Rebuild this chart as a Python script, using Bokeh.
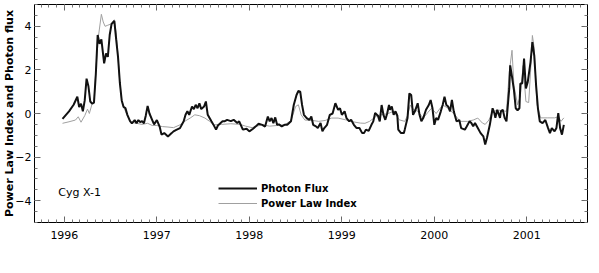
from bokeh.plotting import figure
from bokeh.models import (Range1d, LinearAxis, SingleIntervalTicker, Legend, LegendItem,
                          Label, ColumnDataSource, CustomLabelingPolicy)
from bokeh.embed import file_html
from bokeh.resources import INLINE

# ---- data -----------------------------------------------------------------
flux_year = [1995.98, 1996.05, 1996.10, 1996.14, 1996.16, 1996.18, 1996.20, 1996.22, 1996.24,
             1996.26, 1996.28, 1996.30, 1996.32, 1996.34, 1996.36, 1996.38, 1996.40, 1996.43,
             1996.45, 1996.47, 1996.49, 1996.51, 1996.54, 1996.56, 1996.58, 1996.60, 1996.62,
             1996.64, 1996.66, 1996.68, 1996.71, 1996.73, 1996.76, 1996.78, 1996.80, 1996.82,
             1996.84, 1996.86, 1996.88, 1996.90, 1996.92, 1996.95, 1996.97, 1997.00, 1997.03,
             1997.05, 1997.08, 1997.12, 1997.16, 1997.18, 1997.21, 1997.25, 1997.29, 1997.31,
             1997.33, 1997.35, 1997.38, 1997.40, 1997.42, 1997.44, 1997.46, 1997.48, 1997.51,
             1997.53, 1997.55, 1997.59, 1997.61, 1997.64, 1997.66, 1997.71, 1997.73, 1997.76,
             1997.80, 1997.83, 1997.87, 1997.89, 1997.93, 1997.97, 1998.00, 1998.04, 1998.07,
             1998.10, 1998.14, 1998.17, 1998.20, 1998.22, 1998.24, 1998.26, 1998.28, 1998.30,
             1998.32, 1998.35, 1998.38, 1998.41, 1998.43, 1998.45, 1998.48, 1998.51, 1998.53,
             1998.55, 1998.57, 1998.59, 1998.62, 1998.65, 1998.67, 1998.69, 1998.72, 1998.74,
             1998.77, 1998.79, 1998.81, 1998.84, 1998.87, 1998.90, 1998.93, 1998.96, 1998.98,
             1999.00, 1999.03, 1999.05, 1999.08, 1999.10, 1999.13, 1999.16, 1999.19, 1999.22,
             1999.24, 1999.26, 1999.29, 1999.32, 1999.34, 1999.36, 1999.39, 1999.41, 1999.43,
             1999.45, 1999.47, 1999.49, 1999.51, 1999.52, 1999.54, 1999.56, 1999.58, 1999.60,
             1999.61, 1999.64, 1999.67, 1999.68, 1999.71, 1999.73, 1999.75, 1999.77, 1999.79,
             1999.82, 1999.84, 1999.86, 1999.88, 1999.91, 1999.94, 1999.96, 1999.98, 2000.00,
             2000.02, 2000.04, 2000.07, 2000.09, 2000.11, 2000.13, 2000.15, 2000.17, 2000.19,
             2000.21, 2000.24, 2000.27, 2000.29, 2000.33, 2000.35, 2000.38, 2000.40, 2000.42,
             2000.44, 2000.47, 2000.50, 2000.53, 2000.55, 2000.57, 2000.60, 2000.63, 2000.65,
             2000.66, 2000.68, 2000.71, 2000.72, 2000.74, 2000.76, 2000.78, 2000.81, 2000.82,
             2000.84, 2000.86, 2000.88, 2000.90, 2000.92, 2000.93, 2000.95, 2000.96, 2000.97,
             2000.99, 2001.01, 2001.04, 2001.06, 2001.08, 2001.10, 2001.12, 2001.14, 2001.17,
             2001.20, 2001.23, 2001.25, 2001.27, 2001.30, 2001.32, 2001.34, 2001.36, 2001.38,
             2001.40]
photon_flux = [-0.25, 0.10, 0.40, 0.77, 0.30, 0.45, 0.10, 0.60, 1.60,
               1.25, 0.55, 0.45, 0.50, 1.80, 3.60, 3.20, 3.40, 2.30,
               2.75, 2.60, 3.60, 4.10, 4.25, 3.40, 2.60, 1.40, 0.60,
               0.30, 0.25, -0.05, -0.35, -0.45, -0.30, -0.45, -0.30, -0.40,
               -0.35, -0.45, -0.10, 0.35, 0.00, -0.30, -0.50, -0.30, -0.60,
               -0.97, -0.90, -1.05, -0.90, -0.82, -0.75, -0.67, -0.36, -0.06,
               0.10, -0.06, 0.32, 0.20, 0.40, 0.24, 0.47, 0.20, 0.32,
               0.55, -0.06, -0.36, -0.50, -0.74, -0.55, -0.36, -0.36, -0.29,
               -0.35, -0.29, -0.44, -0.36, -0.74, -0.70, -0.82, -0.70, -0.59,
               -0.47, -0.52, -0.60, -0.14, -0.36, -0.21, -0.44, -0.18, -0.52,
               -0.50, -0.59, -0.52, -0.52, -0.44, -0.36, 0.39, 0.85, 1.03,
               1.00, 0.39, -0.06, -0.21, -0.29, -0.14, -0.52, -0.59, -0.67,
               -0.44, -0.82, -0.67, -0.52, -0.06, 0.00, 0.47, 0.17, 0.24,
               -0.06, 0.10, -0.21, -0.36, -0.29, -0.52, -0.67, -0.67, -0.90,
               -0.90, -0.74, -0.80, -0.52, -0.36, 0.02, -0.10, -0.36, 0.39,
               -0.06, -0.29, 0.00, 0.39, 0.17, 0.32, -0.06, 0.10, -0.10,
               -0.74, -0.90, -0.90, -0.74, -0.21, 0.92, 0.85, -0.06, 0.10,
               0.47, -0.06, -0.36, -0.21, 0.17, 0.39, 0.62, 0.24, -0.52,
               -0.21, -0.29, 0.10, 0.39, 0.77, 0.39, 0.32, 0.10, 0.62,
               0.10, -0.36, -0.30, -0.67, -0.74, -0.60, -0.36, -0.44, -0.59,
               -0.44, -0.67, -0.90, -1.05, -1.42, -1.10, -0.52, 0.24, 0.00,
               -0.20, 0.17, -0.20, 0.10, 0.17, -0.20, -0.36, 1.15, 2.21,
               1.68, 1.10, 0.24, 0.15, 0.24, 1.38, 1.38, 1.90, 2.52,
               1.15, 1.45, 2.36, 3.27, 2.67, 1.30, 0.24, -0.36, -0.44,
               -0.30, -0.67, -0.90, -0.67, -0.82, -0.67, 0.02, -0.67, -0.97,
               -0.52]

index_year = [1995.98, 1996.05, 1996.12, 1996.15, 1996.18, 1996.22, 1996.25, 1996.27, 1996.30,
              1996.32, 1996.34, 1996.37, 1996.40, 1996.42, 1996.44, 1996.47, 1996.50, 1996.54,
              1996.56, 1996.58, 1996.60, 1996.62, 1996.65, 1996.68, 1996.72, 1996.78, 1996.84,
              1996.90, 1996.95, 1997.00, 1997.06, 1997.12, 1997.18, 1997.25, 1997.30, 1997.36,
              1997.41, 1997.46, 1997.52, 1997.57, 1997.62, 1997.70, 1997.80, 1997.90, 1997.96,
              1998.03, 1998.08, 1998.14, 1998.22, 1998.30, 1998.38, 1998.44, 1998.46, 1998.50,
              1998.53, 1998.56, 1998.60, 1998.68, 1998.75, 1998.82, 1998.89, 1998.96, 1999.04,
              1999.12, 1999.20, 1999.25, 1999.30, 1999.38, 1999.50, 1999.56, 1999.62, 1999.68,
              1999.71, 1999.74, 1999.77, 1999.82, 1999.88, 1999.93, 1999.97, 2000.02, 2000.09,
              2000.15, 2000.22, 2000.28, 2000.36, 2000.42, 2000.47, 2000.52, 2000.55, 2000.59,
              2000.63, 2000.70, 2000.78, 2000.81, 2000.84, 2000.86, 2000.90, 2000.93, 2000.96,
              2000.99, 2001.02, 2001.04, 2001.06, 2001.08, 2001.11, 2001.15, 2001.22, 2001.30,
              2001.34, 2001.37, 2001.40]
power_law_index = [-0.45, -0.38, -0.30, -0.15, -0.40, -0.10, 0.20, 0.00, 0.45,
                   0.50, 2.00, 3.60, 4.55, 4.20, 4.00, 4.05, 4.10, 4.30,
                   3.70, 2.60, 1.40, 0.60, 0.20, -0.10, -0.40, -0.45, -0.50,
                   -0.45, -0.55, -0.55, -0.60, -0.62, -0.65, -0.52, -0.36, -0.21,
                   -0.06, -0.10, -0.21, -0.36, -0.52, -0.50, -0.47, -0.50, -0.58,
                   -0.65, -0.58, -0.52, -0.58, -0.55, -0.52, -0.36, -0.21, 0.32,
                   0.40, -0.06, -0.30, -0.32, -0.36, -0.32, -0.21, -0.21, -0.29,
                   -0.38, -0.44, -0.45, -0.36, -0.10, 0.00, 0.10, -0.29, -0.36,
                   -0.10, 0.39, 0.20, 0.10, -0.21, 0.05, 0.24, 0.00, 0.39,
                   0.24, -0.06, -0.36, -0.36, -0.30, -0.21, -0.44, -0.50, -0.30,
                   0.10, 0.15, 0.10, 1.90, 2.90, 1.30, 0.40, 0.80, 2.20,
                   0.55, 0.50, 1.90, 3.58, 3.00, 0.40, -0.20, -0.20, -0.20,
                   -0.15, -0.36, -0.20]

series_names = ["Photon Flux", "Power Law Index"]
source_label = "Cyg X-1"
y_title = "Power Law Index and Photon flux"

# ---- figure ---------------------------------------------------------------
FONT = "DejaVu Sans"

p = figure(width=591, height=265, output_backend="svg", toolbar_location=None,
           x_range=Range1d(1995.677, 2001.656), y_range=Range1d(-5.0, 5.0),
           x_axis_location=None, y_axis_location=None,
           min_border_left=0, min_border_right=1, min_border_top=2, min_border_bottom=43)
p.background_fill_color = "white"
p.border_fill_color = "white"
p.outline_line_color = "black"
p.outline_line_width = 1
p.xgrid.visible = False
p.ygrid.visible = False

hide_all = CustomLabelingPolicy(
    code="const n = indices.size; for (let i = 0; i < n; i++) { indices.unset(i) } return indices")


def style_axis(ax, show_labels):
    ax.axis_line_color = None
    ax.major_tick_in = 6
    ax.major_tick_out = 0
    ax.minor_tick_in = 3
    ax.minor_tick_out = 0
    ax.major_tick_line_color = "#666666"
    ax.minor_tick_line_color = "#777777"
    if show_labels:
        ax.major_label_text_font = FONT
        ax.major_label_text_font_size = "11px"
        ax.major_label_text_color = "black"
    else:
        ax.major_label_text_font_size = "1px"
        ax.major_label_standoff = 0
        ax.major_label_policy = hide_all


xt = SingleIntervalTicker(interval=1, num_minor_ticks=12)
yt = SingleIntervalTicker(interval=2, num_minor_ticks=4)

bottom = LinearAxis(ticker=xt)
style_axis(bottom, True)
bottom.major_label_standoff = 8
top = LinearAxis(ticker=xt)
style_axis(top, False)
left = LinearAxis(ticker=yt, axis_label=y_title)
style_axis(left, True)
left.major_label_standoff = 3
left.axis_label_standoff = -4
left.axis_label_text_font = FONT
left.axis_label_text_font_size = "11px"
left.axis_label_text_font_style = "bold"
left.axis_label_text_color = "black"
right = LinearAxis(ticker=yt)
style_axis(right, False)

p.add_layout(bottom, "below")
p.add_layout(top, "above")
p.add_layout(left, "left")
p.add_layout(right, "right")

src_idx = ColumnDataSource(dict(x=index_year, y=power_law_index))
src_flux = ColumnDataSource(dict(x=flux_year, y=photon_flux))

r_idx = p.line("x", "y", source=src_idx, line_color="#a0a0a0", line_width=1)
r_flux = p.line("x", "y", source=src_flux, line_color="#111111", line_width=2)

legend = Legend(items=[LegendItem(label=series_names[0], renderers=[r_flux]),
                       LegendItem(label=series_names[1], renderers=[r_idx])],
                location=(184, 12), orientation="vertical")
legend.background_fill_alpha = 0
legend.border_line_color = None
legend.padding = 0
legend.margin = 0
legend.spacing = 1
legend.glyph_width = 39
legend.glyph_height = 14
legend.label_height = 14
legend.label_standoff = 4
legend.label_text_font = FONT
legend.label_text_font_size = "10px"
legend.label_text_font_style = "bold"
legend.label_text_color = "black"
p.add_layout(legend, "center")

p.add_layout(Label(x=1995.935, y=-3.64, text=source_label, text_font=FONT,
                   text_font_size="11px", text_baseline="middle", text_color="black"))

open("out.html", "w").write(file_html(p, INLINE))
